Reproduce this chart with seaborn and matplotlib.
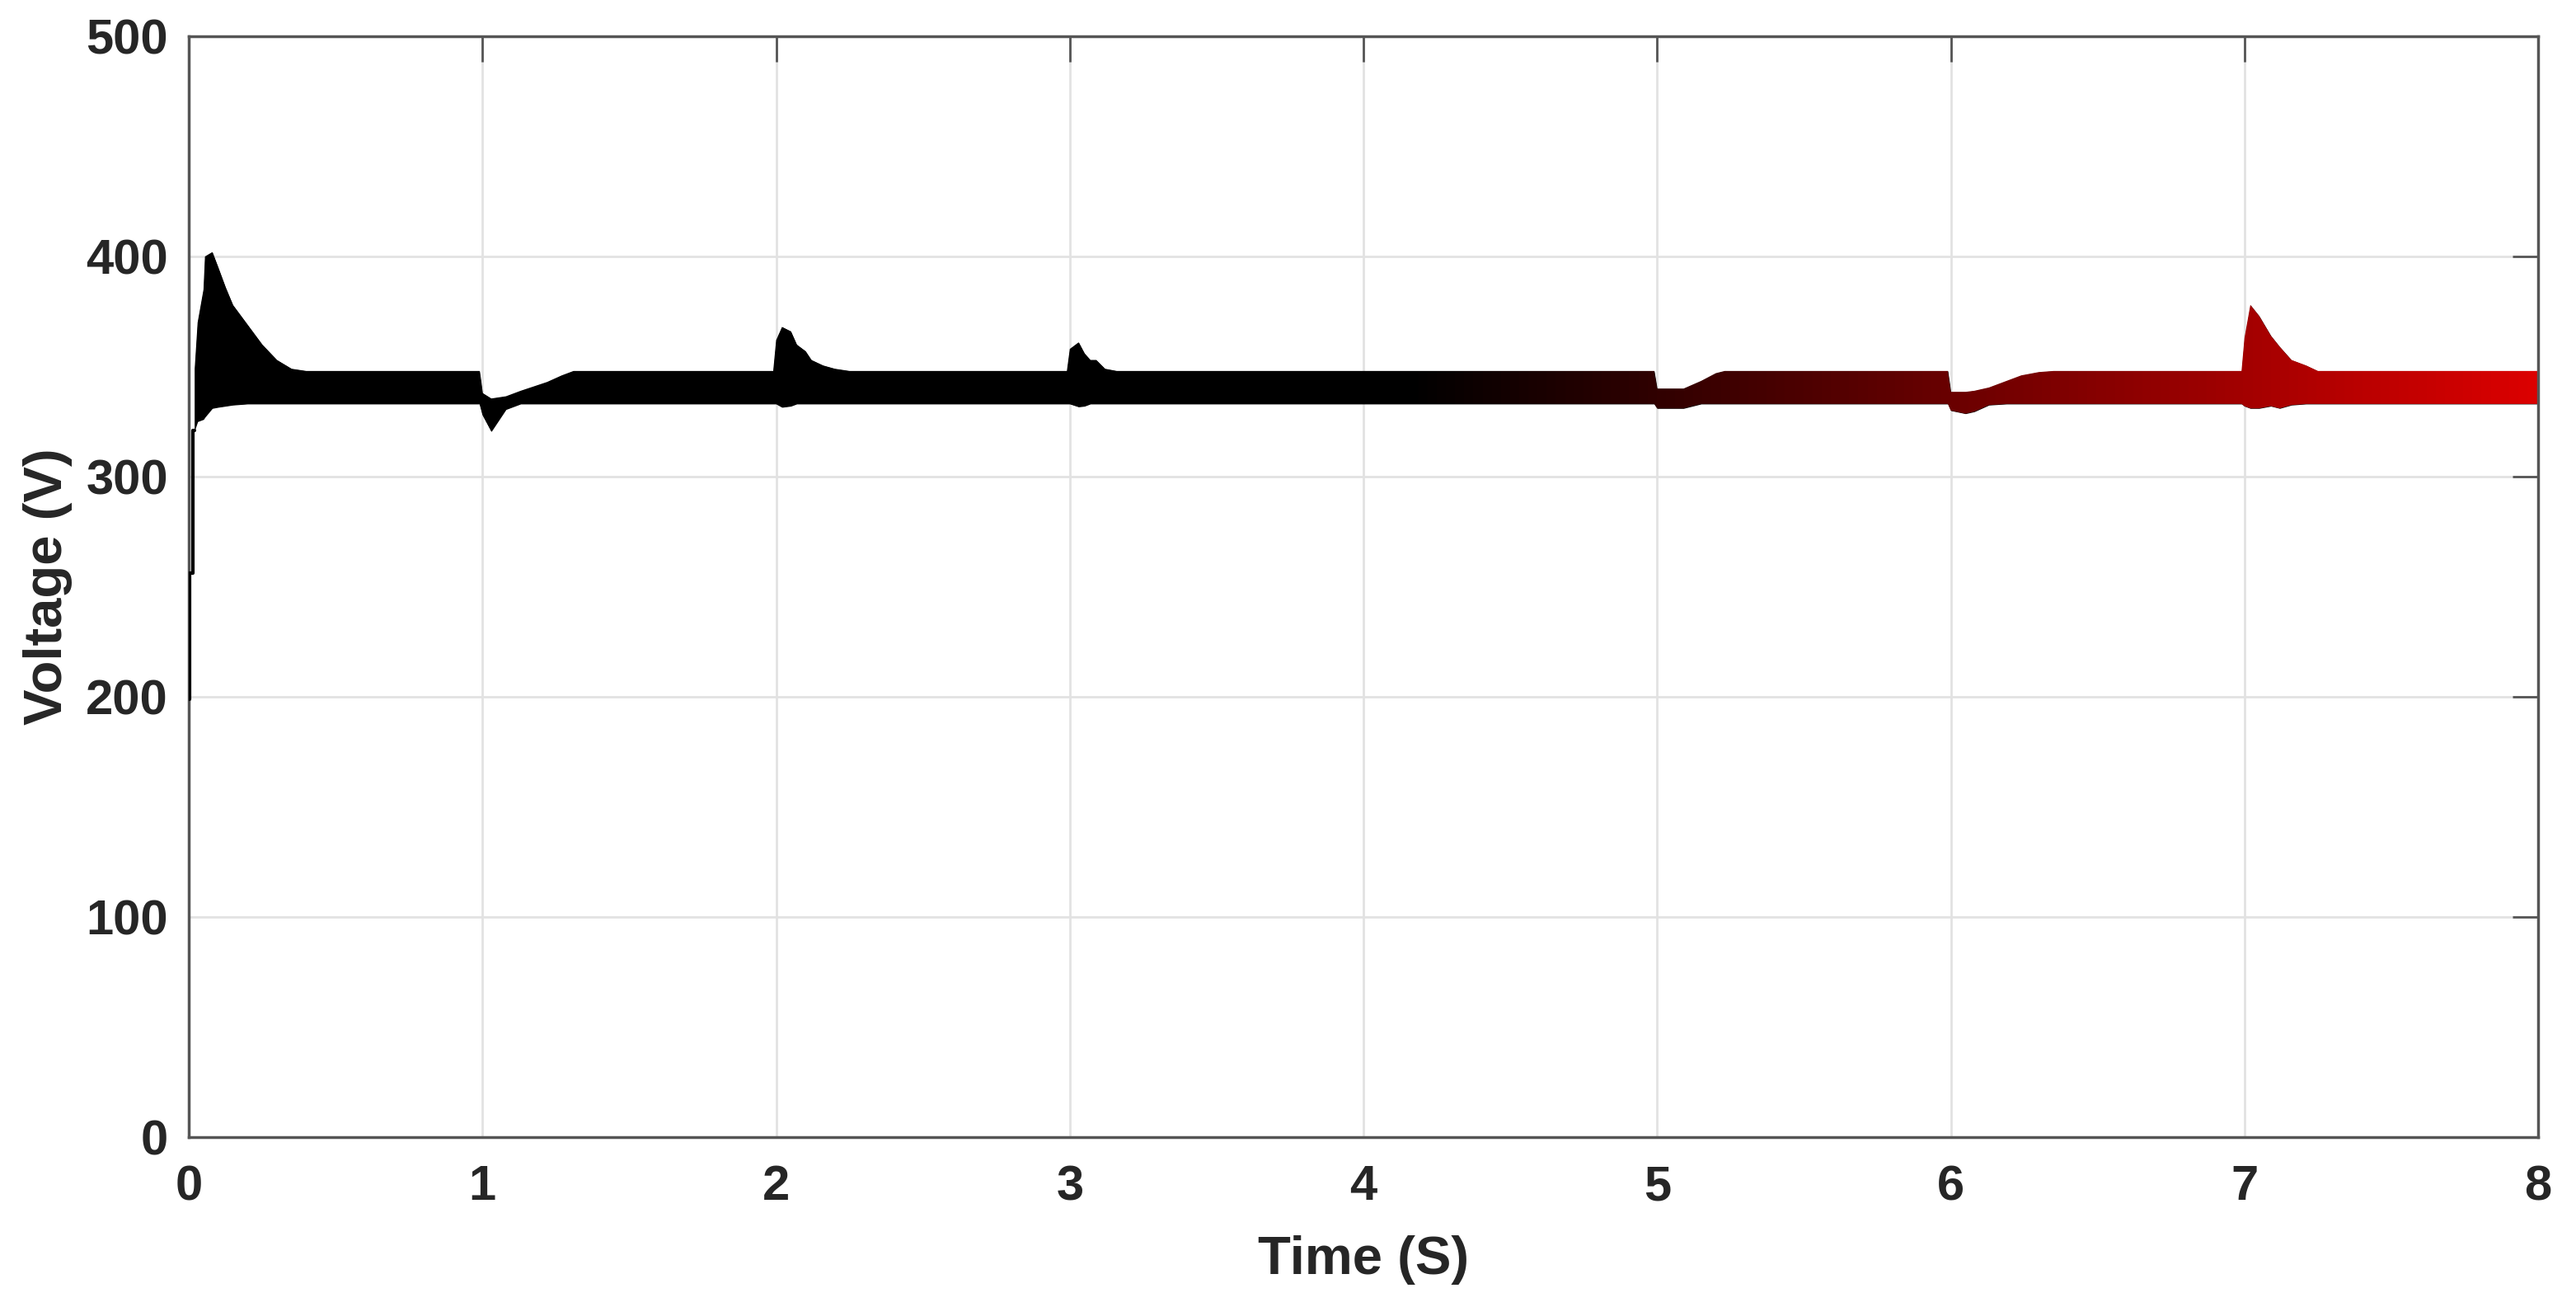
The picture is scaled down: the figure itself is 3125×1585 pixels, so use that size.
import numpy as np
import pandas as pd
import matplotlib
matplotlib.use("Agg")
import matplotlib.pyplot as plt
from matplotlib.colors import LinearSegmentedColormap
import seaborn as sns

# ------------------------------------------------------------
# data (envelope of the DC-link voltage ripple)
# ------------------------------------------------------------
# start-up staircase before the ripple band begins
t_start = [0.0, 0.002, 0.002, 0.015, 0.015, 0.02]
v_start = [199, 199, 256, 256, 321, 321]

# time knots of the ripple band
t_env = [0.02, 0.03, 0.05, 0.055, 0.08, 0.10, 0.125, 0.15, 0.20, 0.25, 0.30, 0.35, 0.40,
         0.99, 1.00, 1.03, 1.08, 1.13, 1.22, 1.27, 1.31,
         1.99, 2.00, 2.02, 2.05, 2.07, 2.10, 2.12, 2.16, 2.20, 2.25,
         2.99, 3.00, 3.03, 3.05, 3.07, 3.09, 3.12, 3.16,
         4.99, 5.00, 5.09, 5.15, 5.20, 5.23,
         5.99, 6.00, 6.05, 6.08, 6.13, 6.19, 6.24, 6.30, 6.35,
         6.99, 7.00, 7.02, 7.05, 7.09, 7.12, 7.16, 7.21, 7.25, 8.00]

# upper envelope (V)
v_upper = [349, 370, 385, 400, 402, 395, 386, 378, 369, 360, 353, 349, 348,
           348, 338, 335.5, 336.5, 339, 343, 346, 348,
           348, 362, 368, 366, 360, 357, 353, 350.5, 349, 348,
           348, 358, 361, 356, 353, 353, 349, 348,
           348, 340, 340, 343.5, 347, 348,
           348, 338.5, 338.5, 339, 340.5, 343.5, 346, 347.5, 348,
           348, 363, 378, 373, 364, 359, 353, 350.5, 348, 348]

# lower envelope (V)
v_lower = [321, 325, 326, 327, 331, 331.5, 332, 332.5, 333, 333, 333, 333, 333,
           333, 328, 320.5, 330.5, 333, 333, 333, 333,
           333, 333, 331.5, 332, 333, 333, 333, 333, 333, 333,
           333, 333, 331.7, 332, 333, 333, 333, 333,
           333, 331, 331, 333, 333, 333,
           333, 330, 328.6, 329.5, 332.5, 333, 333, 333, 333,
           333, 332, 331, 331, 332, 331, 332.5, 333, 333, 333]

x_ticks = [0, 1, 2, 3, 4, 5, 6, 7, 8]
y_ticks = [0, 100, 200, 300, 400, 500]

# ------------------------------------------------------------
# style
# ------------------------------------------------------------
sns.set_style("white")
plt.rcParams['font.family'] = ['Liberation Sans', 'DejaVu Sans']
plt.rcParams['font.weight'] = 'bold'
plt.rcParams['axes.labelweight'] = 'bold'

TEXT = '#262626'
AXC = '#555555'

fig = plt.figure(figsize=(31.25, 15.85), dpi=100)
ax = fig.add_axes([0.0733, 0.130, 0.912, 0.8422])

df_start = pd.DataFrame({'t': t_start, 'v': v_start})
sns.lineplot(data=df_start, x='t', y='v', color='black', linewidth=3, sort=False,
             estimator=None, ax=ax, zorder=3)

# ripple band, coloured black -> red along time
band = ax.fill_between(t_env, v_lower, v_upper, color='black', linewidth=0, zorder=2)
cmap = LinearSegmentedColormap.from_list('blk_red', [(0.0, (0, 0, 0)), (0.52, (0, 0, 0)),
                                                     (1.0, (0.86, 0, 0))])
grad = np.linspace(0, 1, 800).reshape(1, -1)
img = ax.imshow(grad, extent=[0, 8, 0, 500], aspect='auto', cmap=cmap, origin='lower',
                zorder=2.5, interpolation='bilinear')
img.set_clip_path(band.get_paths()[0], transform=ax.transData)

ax.set_xlim(0, 8)
ax.set_ylim(0, 500)
ax.set_xticks(x_ticks)
ax.set_yticks(y_ticks)
ax.grid(True, color='#e2e2e2', linewidth=2)
ax.set_axisbelow(True)

for sp in ax.spines.values():
    sp.set_visible(True)
    sp.set_color(AXC)
    sp.set_linewidth(2.5)

ax.tick_params(axis='both', direction='in', length=22, width=2, color=AXC,
               top=True, right=True, labelsize=43, labelcolor=TEXT)
ax.tick_params(axis='x', pad=24)
ax.tick_params(axis='y', pad=18)
for lab in ax.get_xticklabels() + ax.get_yticklabels():
    lab.set_fontweight('bold')

ax.set_xlabel('Time (S)', fontsize=47, fontweight='bold', color=TEXT, labelpad=22)
ax.set_ylabel('Voltage (V)', fontsize=47, fontweight='bold', color=TEXT, labelpad=12)

fig.savefig('out.png', dpi=100)
